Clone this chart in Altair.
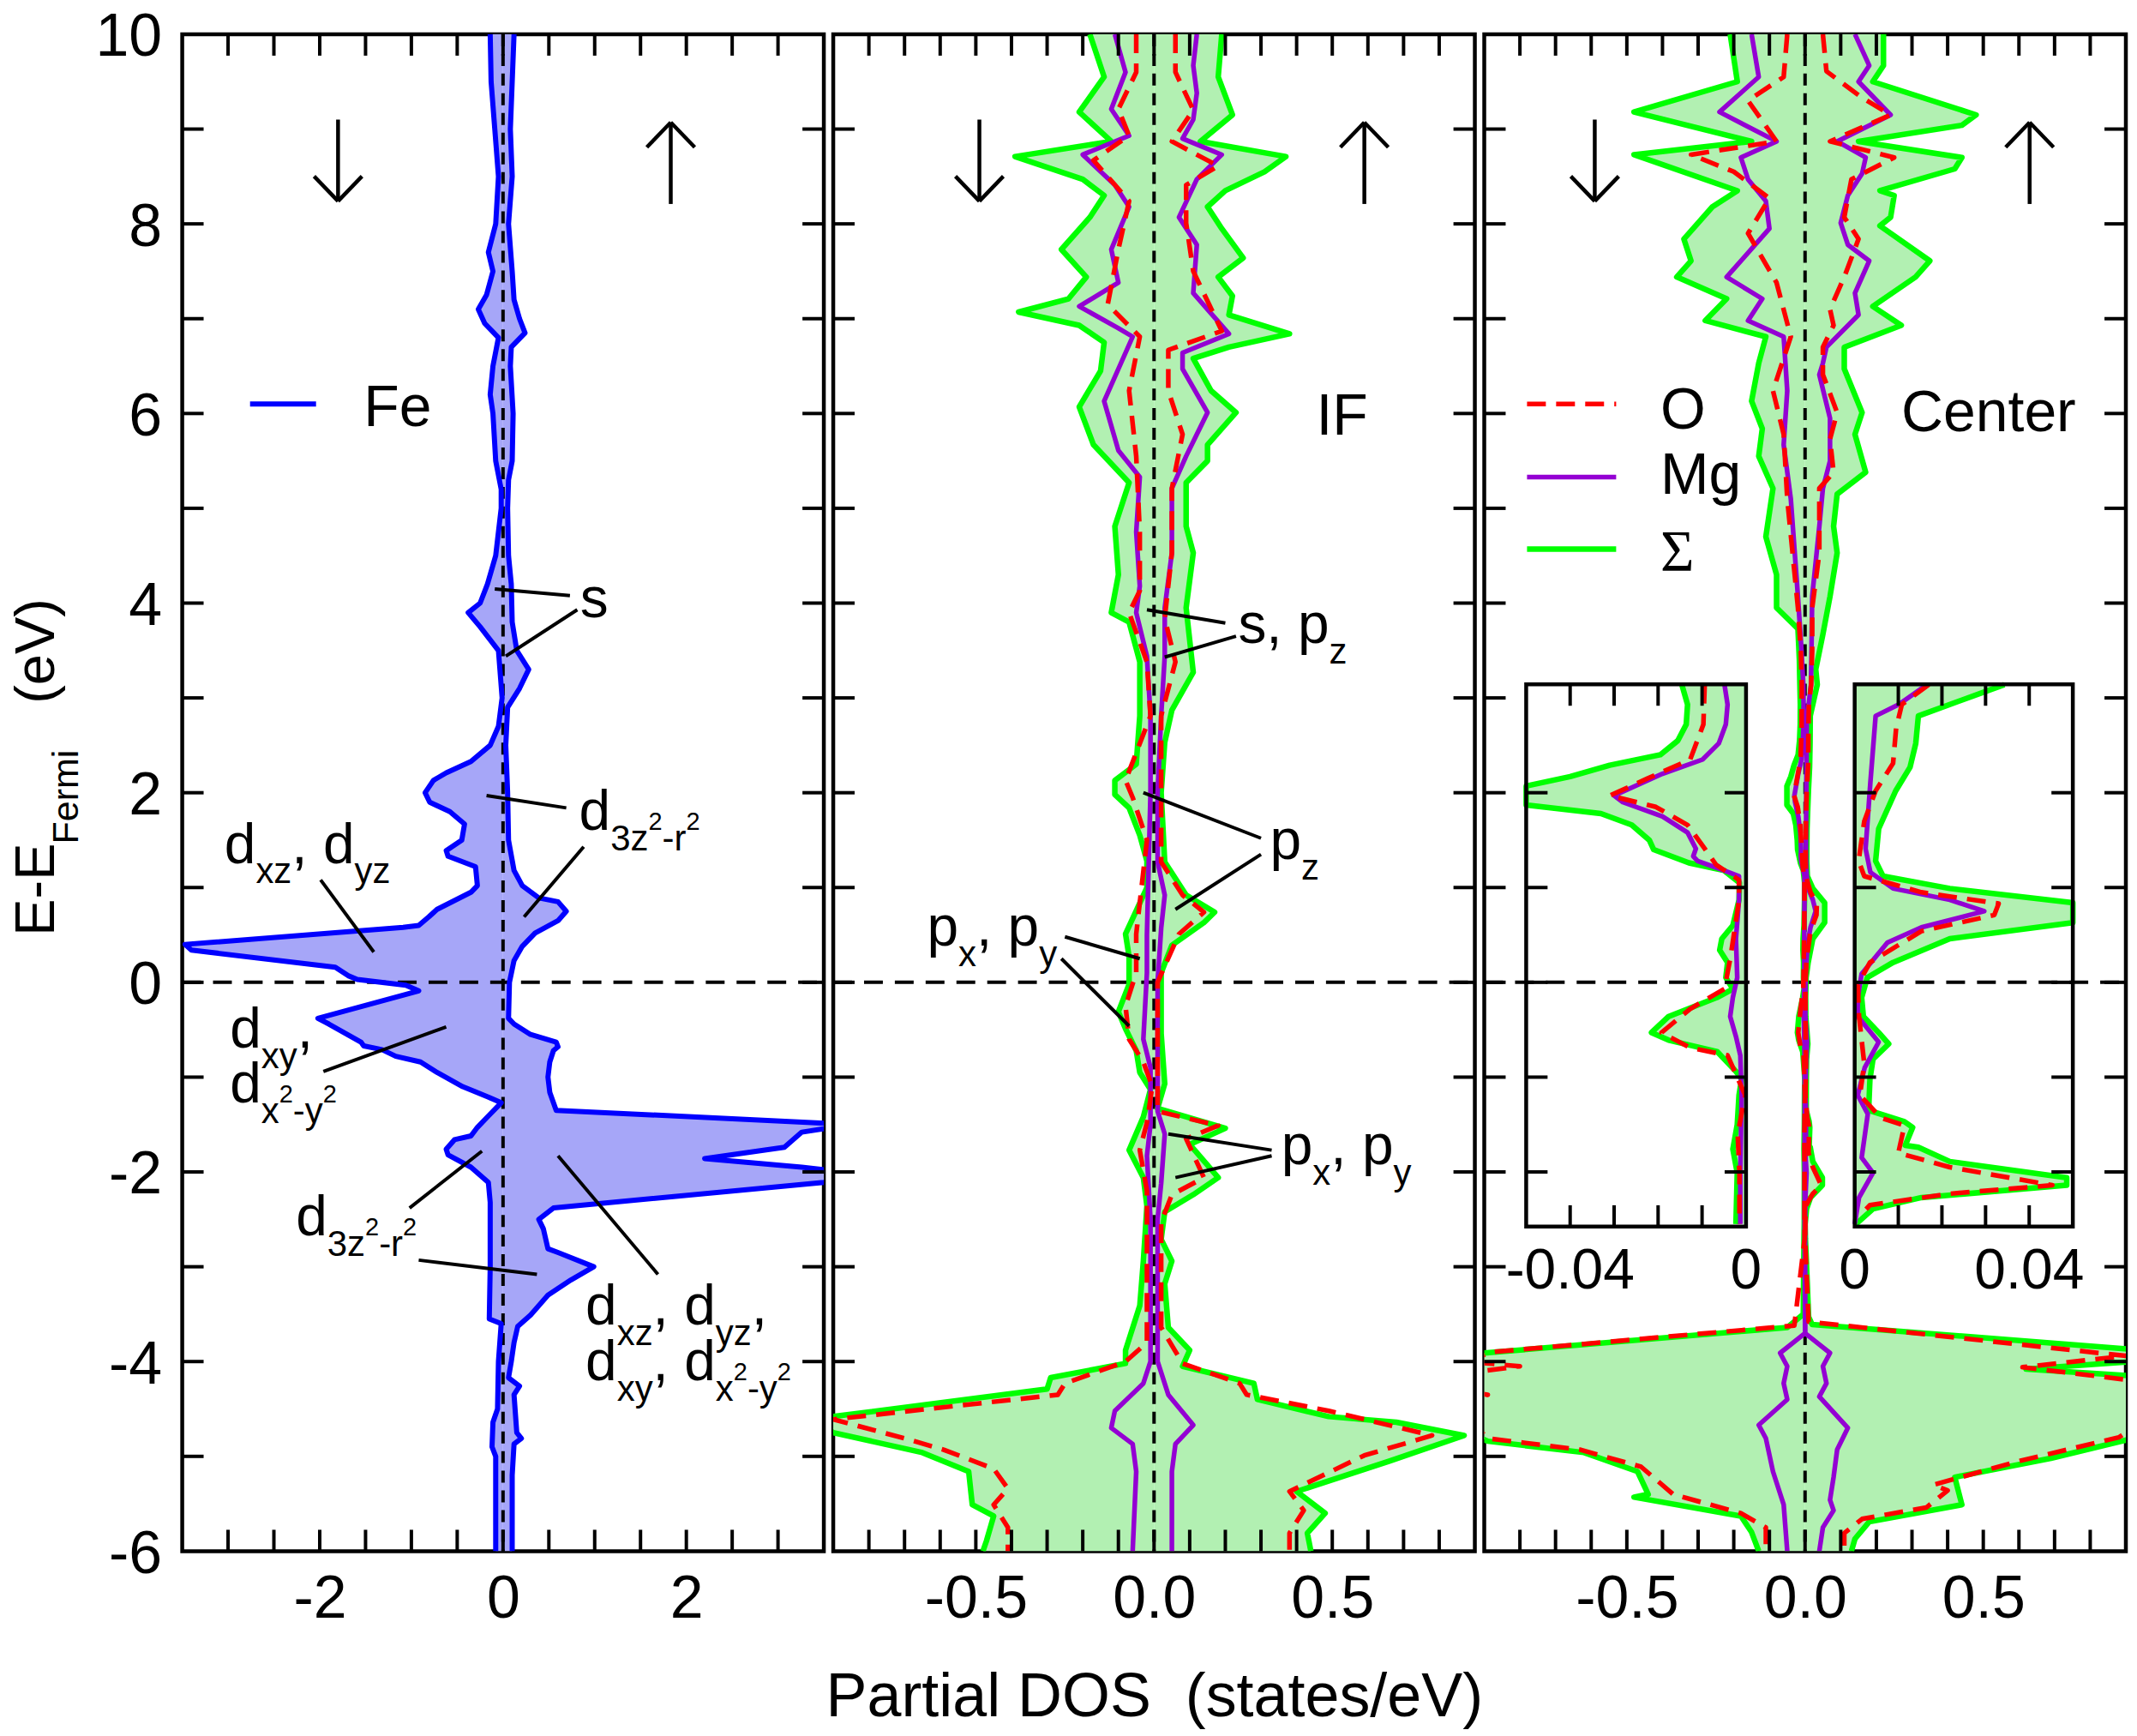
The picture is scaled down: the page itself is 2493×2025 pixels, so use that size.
import altair as alt
import pandas as pd

FONT = "Liberation Sans"
SERIF = "Liberation Serif"
W, H = 750, 1773
E_DOM = [-6.0, 10.0]
PX_E = H / (E_DOM[1] - E_DOM[0])
TL = 25
FS_TICK = 70

BLUE, BLUE_FILL = "#0000ff", "#a6a6f8"
GREEN, GREEN_FILL = "#00ff00", "#b2f0b2"
PURPLE, RED = "#9400d3", "#ff0000"
O_DASH = [22, 12]
LW_FE, LW_SUM, LW_MG, LW_O = 6, 6.5, 5.5, 5.5

X_DOM = [[-3.5, 3.5], [-0.9, 0.9], [-0.9, 0.9]]
X_TICKS = [
    [-3.0, -2.5, -2.0, -1.5, -1.0, -0.5, 0.0, 0.5, 1.0, 1.5, 2.0, 2.5, 3.0],
    [-0.8, -0.7, -0.6, -0.5, -0.4, -0.3, -0.2, -0.1, 0.0, 0.1, 0.2, 0.3, 0.4, 0.5, 0.6, 0.7, 0.8],
    [-0.8, -0.7, -0.6, -0.5, -0.4, -0.3, -0.2, -0.1, 0.0, 0.1, 0.2, 0.3, 0.4, 0.5, 0.6, 0.7, 0.8],
]
X_LABELS = [[-2, 0, 2], [-0.5, 0.0, 0.5], [-0.5, 0.0, 0.5]]
X_LABEL_EXPR = ["'' + datum.value",
                "datum.value == 0 ? '0.0' : '' + datum.value",
                "datum.value == 0 ? '0.0' : '' + datum.value"]
Y_TICKS = [-5, -4, -3, -2, -1, 0, 1, 2, 3, 4, 5, 6, 7, 8, 9]
Y_LABELS = [-6, -4, -2, 0, 2, 4, 6, 8, 10]
X_TITLE = "Partial DOS\u00a0 (states/eV)"

# ---------------- Panel 1: Fe (E, DOS) ----------------
FE_UP = [(10.0, 0.12), (9.5, 0.10), (9.0, 0.08), (8.5, 0.10), (8.0, 0.06), (7.5, 0.10), (7.2, 0.12),
         (7.0, 0.18), (6.85, 0.24), (6.7, 0.09), (6.5, 0.08), (6.0, 0.11), (5.5, 0.10), (5.3, 0.06),
         (5.0, 0.05), (4.5, 0.06), (4.2, 0.09), (3.8, 0.10), (3.5, 0.15), (3.3, 0.28), (3.1, 0.18),
         (2.9, 0.05), (2.5, 0.03), (2.0, 0.05), (1.5, 0.06), (1.18, 0.12), (1.02, 0.21), (0.89, 0.39),
         (0.85, 0.60), (0.75, 0.69), (0.65, 0.60), (0.52, 0.35), (0.38, 0.21), (0.23, 0.12), (0.0, 0.07),
         (-0.38, 0.06), (-0.44, 0.12), (-0.55, 0.30), (-0.63, 0.58), (-0.68, 0.60), (-0.72, 0.55),
         (-0.84, 0.51), (-1.0, 0.49), (-1.16, 0.51), (-1.35, 0.58), (-1.50, 3.8), (-1.58, 3.26),
         (-1.74, 3.07), (-1.86, 2.20), (-1.95, 3.26), (-2.02, 3.9), (-2.11, 3.5), (-2.38, 0.55),
         (-2.50, 0.39), (-2.6, 0.44), (-2.81, 0.49), (-2.85, 0.60), (-3.0, 0.99), (-3.14, 0.74),
         (-3.30, 0.49), (-3.51, 0.30), (-3.63, 0.16), (-3.8, 0.12), (-4.0, 0.09), (-4.17, 0.06),
         (-4.26, 0.18), (-4.35, 0.12), (-4.75, 0.15), (-4.81, 0.20), (-4.87, 0.12), (-5.2, 0.10),
         (-6.0, 0.10)]
FE_DN = [(10.0, 0.14), (9.5, 0.13), (9.0, 0.09), (8.5, 0.05), (8.0, 0.08), (7.7, 0.16), (7.5, 0.11),
         (7.25, 0.18), (7.1, 0.27), (6.95, 0.20), (6.8, 0.05), (6.5, 0.11), (6.2, 0.14), (6.0, 0.11),
         (5.5, 0.08), (5.2, 0.02), (5.0, 0.02), (4.5, 0.08), (4.2, 0.17), (4.0, 0.25), (3.9, 0.38),
         (3.75, 0.25), (3.5, 0.05), (3.0, 0.01), (2.7, 0.05), (2.5, 0.14), (2.33, 0.35), (2.21, 0.62),
         (2.13, 0.76), (2.0, 0.85), (1.9, 0.80), (1.80, 0.58), (1.67, 0.42), (1.5, 0.45), (1.39, 0.62),
         (1.33, 0.60), (1.22, 0.30), (1.02, 0.28), (0.95, 0.35), (0.77, 0.72), (0.69, 0.81), (0.60, 0.92),
         (0.58, 1.09), (0.40, 3.47), (0.34, 3.40), (0.16, 1.83), (0.07, 1.69), (0.03, 1.59),
         (-0.03, 1.06), (-0.09, 0.92), (-0.38, 2.02), (-0.44, 1.90), (-0.63, 1.55), (-0.67, 1.52),
         (-0.71, 1.32), (-0.78, 1.17), (-0.84, 0.90), (-0.95, 0.72), (-1.10, 0.44), (-1.21, 0.16),
         (-1.27, 0.02), (-1.41, 0.16), (-1.53, 0.28), (-1.62, 0.35), (-1.66, 0.53), (-1.76, 0.62),
         (-1.82, 0.60), (-1.95, 0.35), (-2.11, 0.16), (-2.32, 0.14), (-3.0, 0.14), (-3.55, 0.15),
         (-3.6, 0.02), (-4.0, 0.05), (-4.5, 0.06), (-4.64, 0.11), (-4.9, 0.12), (-5.0, 0.08), (-6.0, 0.08)]

# ---------------- Panel 2: IF ----------------
IF_SUM_UP = [(10.0, 0.19), (9.55, 0.18), (9.15, 0.22), (8.87, 0.13), (8.71, 0.37), (8.55, 0.31), (8.35, 0.20),
             (8.18, 0.15), (7.95, 0.19), (7.64, 0.25), (7.44, 0.18), (7.24, 0.22), (7.04, 0.21), (6.84, 0.38),
             (6.70, 0.21), (6.58, 0.11), (6.24, 0.16), (6.01, 0.23), (5.67, 0.15), (5.50, 0.15), (5.27, 0.09),
             (4.81, 0.09), (4.53, 0.11), (3.95, 0.09), (3.27, 0.11), (2.87, 0.05), (2.53, 0.03), (2.0, 0.02),
             (1.27, 0.03), (0.92, 0.09), (0.74, 0.17), (0.63, 0.14), (0.39, 0.05), (0.10, 0.02), (-0.25, 0.02),
             (-0.54, 0.02), (-1.07, 0.03), (-1.33, 0.01), (-1.54, 0.20), (-1.71, 0.10), (-2.06, 0.18),
             (-2.24, 0.11), (-2.42, 0.03), (-2.71, 0.02), (-2.94, 0.05), (-3.18, 0.03), (-3.64, 0.04),
             (-3.88, 0.10), (-4.05, 0.08), (-4.23, 0.28), (-4.40, 0.29), (-4.58, 0.49), (-4.64, 0.68),
             (-4.78, 0.87), (-5.05, 0.66), (-5.37, 0.40), (-5.60, 0.48), (-5.81, 0.43), (-6.0, 0.44)]
IF_SUM_DN = [(10.0, 0.18), (9.55, 0.14), (9.18, 0.21), (8.87, 0.12), (8.71, 0.39), (8.47, 0.20), (8.30, 0.14),
             (8.07, 0.18), (7.73, 0.26), (7.44, 0.19), (7.21, 0.24), (7.07, 0.38), (6.93, 0.21), (6.75, 0.14),
             (6.45, 0.15), (6.07, 0.21), (5.67, 0.17), (5.27, 0.07), (4.81, 0.11), (4.30, 0.10), (3.90, 0.12),
             (3.80, 0.07), (3.38, 0.04), (2.81, 0.04), (2.30, 0.05), (2.13, 0.11), (1.98, 0.11), (1.84, 0.07),
             (1.55, 0.04), (1.28, 0.02), (1.0, 0.02), (0.51, 0.08), (0.27, 0.07), (-0.02, 0.07), (-0.31, 0.10),
             (-0.49, 0.08), (-0.72, 0.05), (-0.95, 0.04), (-1.13, 0.01), (-1.42, 0.03), (-1.77, 0.07),
             (-2.06, 0.03), (-2.36, 0.02), (-2.94, 0.03), (-3.41, 0.04), (-3.88, 0.08), (-4.02, 0.08),
             (-4.17, 0.29), (-4.29, 0.30), (-4.58, 0.90), (-4.64, 0.95), (-4.75, 0.90), (-4.96, 0.65),
             (-5.16, 0.52), (-5.51, 0.51), (-5.63, 0.45), (-5.89, 0.47), (-6.0, 0.48)]
IF_MG_UP = [(10.0, 0.12), (9.67, 0.11), (9.38, 0.12), (9.1, 0.11), (8.9, 0.08), (8.73, 0.19), (8.47, 0.12),
            (8.07, 0.07), (7.78, 0.12), (7.27, 0.11), (6.84, 0.21), (6.64, 0.08), (6.47, 0.08), (6.01, 0.15),
            (5.55, 0.09), (5.21, 0.05), (4.53, 0.05), (3.95, 0.03), (3.44, 0.03), (2.81, 0.02), (2.0, 0.01),
            (1.27, 0.01), (0.92, 0.03), (0.57, 0.02), (0.0, 0.01), (-1.0, 0.01), (-1.36, 0.01), (-1.6, 0.03),
            (-2.12, 0.02), (-2.5, 0.01), (-4.0, 0.01), (-4.35, 0.04), (-4.67, 0.11), (-4.87, 0.06),
            (-5.16, 0.05), (-6.0, 0.05)]
IF_MG_DN = [(10.0, 0.11), (9.6, 0.08), (9.21, 0.12), (8.93, 0.07), (8.73, 0.20), (8.41, 0.11), (8.18, 0.07),
            (7.73, 0.12), (7.38, 0.10), (7.13, 0.21), (6.9, 0.10), (6.81, 0.06), (6.13, 0.14), (5.61, 0.10),
            (5.33, 0.04), (4.75, 0.05), (4.18, 0.04), (3.90, 0.05), (3.44, 0.02), (2.81, 0.01), (2.0, 0.01),
            (0.5, 0.02), (0.10, 0.02), (-0.6, 0.03), (-0.9, 0.01), (-1.5, 0.01), (-1.83, 0.02), (-2.5, 0.01),
            (-4.0, 0.01), (-4.23, 0.03), (-4.52, 0.11), (-4.70, 0.12), (-4.87, 0.06), (-5.16, 0.05), (-6.0, 0.06)]
IF_O_UP = [(10.0, 0.06), (9.6, 0.06), (9.2, 0.11), (8.87, 0.05), (8.61, 0.18), (8.41, 0.09), (8.01, 0.09),
           (7.5, 0.11), (6.87, 0.19), (6.67, 0.04), (6.24, 0.04), (5.78, 0.08), (5.21, 0.05), (4.53, 0.05),
           (3.84, 0.03), (3.38, 0.06), (2.81, 0.02), (2.0, 0.02), (1.27, 0.02), (0.92, 0.08), (0.74, 0.14),
           (0.51, 0.07), (0.0, 0.01), (-1.36, 0.01), (-1.51, 0.18), (-1.65, 0.09), (-2.06, 0.14), (-2.24, 0.05),
           (-2.53, 0.02), (-3.64, 0.02), (-4.02, 0.08), (-4.23, 0.24), (-4.35, 0.26), (-4.52, 0.49),
           (-4.78, 0.78), (-4.99, 0.59), (-5.37, 0.38), (-5.57, 0.42), (-5.81, 0.38), (-6.0, 0.38)]
IF_O_DN = [(10.0, 0.05), (9.6, 0.05), (9.21, 0.10), (8.93, 0.07), (8.67, 0.17), (8.24, 0.07), (7.73, 0.10),
           (7.15, 0.13), (6.81, 0.04), (6.24, 0.07), (5.55, 0.05), (4.75, 0.04), (4.13, 0.04), (3.90, 0.07),
           (3.38, 0.02), (2.81, 0.01), (2.13, 0.08), (1.95, 0.06), (1.5, 0.02), (0.51, 0.05), (0.10, 0.05),
           (-0.25, 0.08), (-0.6, 0.07), (-0.84, 0.03), (-1.1, 0.005), (-1.48, 0.02), (-1.77, 0.04),
           (-2.2, 0.02), (-3.8, 0.02), (-4.0, 0.08), (-4.23, 0.25), (-4.35, 0.27), (-4.61, 0.90),
           (-4.81, 0.70), (-4.93, 0.59), (-5.13, 0.45), (-5.34, 0.41), (-5.51, 0.45), (-5.75, 0.41), (-6.0, 0.41)]

# ---------------- Panel 3: Center (high / inset range / low) ----------------
C_SUM_UP_HI = [(10.0, 0.22), (9.67, 0.22), (9.5, 0.19), (9.15, 0.48), (9.04, 0.44), (8.87, 0.15), (8.70, 0.44),
               (8.58, 0.42), (8.35, 0.21), (8.30, 0.25), (8.07, 0.24), (7.98, 0.21), (7.61, 0.35), (7.44, 0.31),
               (7.13, 0.19), (6.93, 0.27), (6.70, 0.11), (6.47, 0.11), (6.01, 0.16), (5.78, 0.14), (5.38, 0.17),
               (5.15, 0.09), (4.81, 0.08), (4.53, 0.09), (4.07, 0.07), (3.67, 0.05), (3.3, 0.03)]
C_SUM_UP_MID = [(3.14, 0.0343), (2.81, 0.0146), (2.52, 0.014), (2.27, 0.0127), (2.02, 0.0094), (1.62, 0.0055),
                (1.28, 0.0048), (1.12, 0.0065), (0.99, 0.0218), (0.84, 0.055), (0.63, 0.055), (0.46, 0.0218),
                (0.21, 0.0088), (0.05, 0.0029), (-0.16, 0.0016), (-0.36, 0.002), (-0.53, 0.0055),
                (-0.65, 0.0078), (-0.81, 0.0042), (-1.02, 0.0035), (-1.35, 0.0032), (-1.47, 0.0114),
                (-1.53, 0.0133), (-1.72, 0.0116), (-1.74, 0.0146), (-1.89, 0.0218), (-2.06, 0.0486),
                (-2.14, 0.0486), (-2.27, 0.0153), (-2.39, 0.0042), (-2.55, 0.0003)]
C_SUM_UP_LO = [(-2.7, 0.001), (-3.53, 0.01), (-3.61, 0.02), (-3.88, 0.95), (-3.98, 1.0), (-4.08, 0.62),
               (-4.17, 1.0), (-4.5, 1.2), (-4.81, 0.92), (-5.02, 0.69), (-5.22, 0.42), (-5.51, 0.44),
               (-5.69, 0.18), (-5.87, 0.14), (-6.0, 0.13)]
C_SUM_DN_HI = [(10.0, 0.21), (9.5, 0.19), (9.18, 0.48), (8.87, 0.15), (8.73, 0.48), (8.35, 0.19), (8.18, 0.26),
               (7.84, 0.34), (7.61, 0.32), (7.44, 0.36), (7.21, 0.22), (6.98, 0.28), (6.81, 0.11), (6.53, 0.13),
               (6.13, 0.15), (5.84, 0.12), (5.55, 0.13), (5.21, 0.09), (4.70, 0.11), (4.30, 0.08), (3.95, 0.08),
               (3.73, 0.02), (3.4, 0.016)]
C_SUM_DN_MID = [(3.14, 0.0146), (2.93, 0.0133), (2.72, 0.0136), (2.55, 0.0155), (2.40, 0.0195), (2.29, 0.031),
                (2.17, 0.040), (2.07, 0.051), (1.87, 0.051), (1.78, 0.033), (1.66, 0.026), (1.50, 0.022),
                (1.40, 0.021), (1.26, 0.013), (1.18, 0.005), (1.05, 0.0015), (0.87, 0.0016), (0.60, 0.003),
                (0.46, 0.0055), (0.34, 0.006), (0.21, 0.0042), (0.05, 0.0046), (-0.07, 0.003), (-0.16, 0.0066),
                (-0.36, 0.0176), (-0.53, 0.0215), (-0.61, 0.0176), (-0.73, 0.0066), (-0.94, 0.0023),
                (-1.02, 0.001), (-1.19, 0.0016), (-1.5, 0.002), (-1.76, 0.003), (-2.01, 0.002), (-2.55, 0.0023)]
C_SUM_DN_LO = [(-2.7, 0.003), (-3.5, 0.005), (-3.64, 0.05), (-3.91, 0.90), (-4.0, 1.0), (-4.5, 1.1),
               (-4.84, 0.89), (-4.96, 0.62), (-5.16, 0.47), (-5.40, 0.44), (-5.43, 0.48), (-5.63, 0.18),
               (-5.80, 0.15), (-6.0, 0.13)]
C_MG_UP_HI = [(10.0, 0.14), (9.67, 0.18), (9.5, 0.15), (9.15, 0.24), (8.87, 0.09), (8.70, 0.17), (8.53, 0.16),
              (8.30, 0.12), (8.01, 0.10), (7.78, 0.12), (7.61, 0.18), (7.27, 0.14), (7.04, 0.15), (6.70, 0.06),
              (6.53, 0.05), (6.41, 0.04), (5.95, 0.07), (5.50, 0.07), (5.21, 0.05), (4.81, 0.04), (4.07, 0.02),
              (3.5, 0.018)]
C_MG_UP_MID = [(3.14, 0.0166), (2.93, 0.0101), (2.81, 0.0048), (2.11, 0.0036), (1.41, 0.0025), (1.16, 0.0036),
               (0.99, 0.0088), (0.87, 0.0218), (0.75, 0.0297), (0.58, 0.0153), (0.42, 0.0075), (0.09, 0.0016),
               (-0.16, 0.0007), (-0.36, 0.0007), (-0.63, 0.0055), (-0.9, 0.0023), (-1.19, 0.0007),
               (-1.39, 0.003), (-1.85, 0.0016), (-2.01, 0.0042), (-2.27, 0.001), (-2.55, 0.0)]
C_MG_UP_LO = [(-2.7, 0.0), (-3.7, 0.0), (-3.91, 0.07), (-4.05, 0.05), (-4.23, 0.06), (-4.37, 0.04), (-4.70, 0.12),
              (-4.93, 0.09), (-5.22, 0.08), (-5.46, 0.07), (-5.57, 0.08), (-5.75, 0.05), (-6.0, 0.04)]
C_MG_DN_HI = [(10.0, 0.15), (9.55, 0.13), (9.18, 0.24), (8.87, 0.08), (8.70, 0.18), (8.47, 0.16), (8.24, 0.11),
              (7.95, 0.10), (7.44, 0.22), (7.21, 0.12), (6.98, 0.16), (6.81, 0.06), (6.24, 0.05), (5.67, 0.06),
              (5.10, 0.04), (4.07, 0.02), (3.5, 0.01)]
C_MG_DN_MID = [(3.14, 0.0049), (2.93, 0.0042), (2.72, 0.0046), (2.52, 0.0062), (2.35, 0.0099), (2.20, 0.019),
               (1.97, 0.030), (1.90, 0.028), (1.75, 0.019), (1.58, 0.0133), (1.41, 0.0114), (1.33, 0.012),
               (1.28, 0.011), (1.20, 0.0062), (1.12, 0.0016), (0.87, 0.0016), (0.46, 0.0023), (0.05, 0.002),
               (-0.16, 0.003), (-0.36, 0.0036), (-0.57, 0.0023), (-0.77, 0.0013), (-1.19, 0.001),
               (-2.01, 0.0013), (-2.55, 0.0013)]
C_MG_DN_LO = [(-2.7, 0.001), (-3.7, 0.0), (-3.91, 0.07), (-4.05, 0.05), (-4.23, 0.06), (-4.40, 0.05),
              (-4.67, 0.13), (-4.81, 0.11), (-5.16, 0.09), (-5.51, 0.06), (-6.0, 0.05)]
C_O_UP_HI = [(10.0, 0.05), (9.61, 0.06), (9.33, 0.16), (9.15, 0.24), (8.87, 0.07), (8.70, 0.25), (8.47, 0.13),
             (8.07, 0.11), (7.84, 0.15), (7.44, 0.11), (7.10, 0.07), (6.93, 0.08), (6.70, 0.05), (6.41, 0.05),
             (6.01, 0.09), (5.73, 0.07), (5.38, 0.08), (5.21, 0.04), (4.53, 0.04), (3.95, 0.02), (3.5, 0.02)]
C_O_UP_MID = [(3.14, 0.017), (2.93, 0.0108), (2.68, 0.0095), (2.31, 0.0088), (2.02, 0.0048), (1.70, 0.0022),
              (1.28, 0.0009), (1.12, 0.0022), (0.95, 0.0153), (0.83, 0.033), (0.71, 0.032), (0.54, 0.0153),
              (0.21, 0.0035), (-0.03, 0.0007), (-0.36, 0.001), (-0.61, 0.0016), (-0.86, 0.0022),
              (-1.19, 0.0012), (-1.43, 0.006), (-1.51, 0.0114), (-1.80, 0.01), (-1.95, 0.0218),
              (-2.14, 0.0453), (-2.23, 0.0218), (-2.35, 0.0035), (-2.47, 0.001)]
C_O_UP_LO = [(-2.7, 0.0), (-3.58, 0.01), (-3.94, 0.90), (-4.06, 0.61), (-4.20, 0.92), (-4.5, 1.0), (-4.80, 0.88),
             (-5.05, 0.60), (-5.30, 0.36), (-5.36, 0.40), (-5.54, 0.34), (-5.66, 0.16), (-5.81, 0.11), (-6.0, 0.11)]
C_O_DN_HI = [(10.0, 0.05), (9.55, 0.06), (9.30, 0.16), (8.87, 0.08), (8.73, 0.32), (8.55, 0.20), (8.27, 0.10),
             (7.90, 0.16), (7.38, 0.08), (6.81, 0.04), (6.24, 0.09), (5.78, 0.06), (5.10, 0.05), (3.95, 0.02),
             (3.5, 0.012)]
C_O_DN_MID = [(3.14, 0.0094), (2.72, 0.0097), (2.35, 0.0127), (2.15, 0.0224), (1.97, 0.031), (1.85, 0.0205),
              (1.66, 0.0133), (1.41, 0.0094), (1.24, 0.0068), (1.08, 0.0016), (0.87, 0.0016), (0.46, 0.0029),
              (0.25, 0.0036), (-0.07, 0.0049), (-0.28, 0.0127), (-0.53, 0.0192), (-0.69, 0.0127),
              (-0.77, 0.0042), (-1.19, 0.0002), (-1.6, 0.0019), (-2.01, 0.0015), (-2.55, 0.0015)]
C_O_DN_LO = [(-2.7, 0.001), (-3.62, 0.03), (-3.90, 0.88), (-4.0, 0.95), (-4.05, 0.80), (-4.12, 0.95), (-4.3, 1.0),
             (-4.35, 0.89), (-4.4, 1.0), (-4.81, 0.89), (-4.93, 0.63), (-5.11, 0.46), (-5.40, 0.37),
             (-5.60, 0.18), (-5.75, 0.11), (-6.0, 0.11)]

# ---------------- insets ----------------
INSET_E = [-2.577, 3.143]
INSET_L_DOM, INSET_R_DOM = [-0.05, 0.0], [0.0, 0.05]
INSET_L_PX, INSET_R_PX = [49, 306], [433, 688]
INSET_XT_L = [-0.04, -0.03, -0.02, -0.01]
INSET_XT_R = [0.01, 0.02, 0.03, 0.04]
INSET_YT = [2, 1, 0, -1, -2]
INSET_LAB_L = [-0.04, 0.0]
INSET_LAB_R = [0.0, 0.04]

# ---------------- annotations ----------------
WID = {'d': .556, 'x': .5, 'z': .5, 'y': .5, 's': .5, 'p': .556, '3': .556, '2': .556, '-': .333,
       'r': .333, ',': .278, ' ': .278, 'I': .278, 'F': .611, 'e': .556, 'C': .722, 'n': .556,
       't': .278, 'O': .778, 'M': .833, 'g': .556}
ROLE = {"m": (66, 0.0), "s": (42, 24.0), "ss": (29, 0.0), "L": (68, 0.0)}
D3Z = [("d", "m"), ("3z", "s"), ("2", "ss"), ("-r", "s"), ("2", "ss")]
P1_LABELS = [
    (0.84, 3.85, [("s", "m")]),
    (0.83, 1.61, D3Z),
    (-3.04, 1.26, [("d", "m"), ("xz", "s"), (",", "m"), (" ", "m"), ("d", "m"), ("yz", "s")]),
    (-2.98, -0.69, [("d", "m"), ("xy", "s"), (",", "m")]),
    (-2.98, -1.27, [("d", "m"), ("x", "s"), ("2", "ss"), ("-y", "s"), ("2", "ss")]),
    (-2.26, -2.67, D3Z),
    (0.90, -3.61, [("d", "m"), ("xz", "s"), (",", "m"), (" ", "m"), ("d", "m"), ("yz", "s"), (",", "m")]),
    (0.90, -4.20, [("d", "m"), ("xy", "s"), (",", "m"), (" ", "m"), ("d", "m"), ("x", "s"), ("2", "ss"),
                   ("-y", "s"), ("2", "ss")]),
    (-1.52, 5.87, [("Fe", "L")]),
]
PXPY = [("p", "m"), ("x", "s"), (",", "m"), (" ", "m"), ("p", "m"), ("y", "s")]
P2_LABELS = [
    (0.236, 3.58, [("s", "m"), (",", "m"), (" ", "m"), ("p", "m"), ("z", "s")]),
    (0.325, 1.30, [("p", "m"), ("z", "s")]),
    (-0.637, 0.39, PXPY),
    (0.357, -1.92, PXPY),
    (0.455, 5.78, [("IF", "L")]),
]
P3_LABELS = [
    (0.27, 5.81, [("Center", "L")]),
    (-0.406, 5.84, [("O", "L")]),
    (-0.406, 5.15, [("Mg", "L")]),
]
P3_SIGMA = (-0.406, 4.35, "Σ")
P1_LEADERS = [(0.73, 4.08, -0.09, 4.15), (0.81, 3.93, 0.03, 3.44), (0.69, 1.84, -0.18, 1.97),
              (0.88, 1.43, 0.23, 0.69), (-1.99, 1.08, -1.41, 0.32), (-1.96, -0.94, -0.62, -0.47),
              (-1.02, -2.38, -0.23, -1.78), (-0.92, -2.93, 0.37, -3.08), (0.60, -1.83, 1.69, -3.08)]
P2_LEADERS = [(0.20, 3.79, -0.02, 3.93), (0.23, 3.65, 0.03, 3.43), (0.30, 1.52, -0.03, 2.00),
              (0.30, 1.35, 0.06, 0.77), (-0.25, 0.48, -0.04, 0.25), (-0.26, 0.25, -0.07, -0.46),
              (0.33, -1.77, 0.04, -1.60), (0.33, -1.83, 0.06, -2.06)]
ARROWS = [[(-1.80, 9.10, 8.24, "down"), (1.83, 9.07, 8.21, "up")],
          [(-0.49, 9.10, 8.24, "down"), (0.59, 9.07, 8.21, "up")],
          [(-0.59, 9.10, 8.24, "down"), (0.63, 9.07, 8.21, "up")]]
ARROW_HEAD_PX = (28, 29)
FE_LEGEND = (-2.76, -2.04, 6.10)
C_LEGEND_X = (-0.78, -0.53)
C_LEGEND_E = {"O": 6.10, "Mg": 5.33, "S": 4.57}
YTITLE = [("E-E", 65, -150, 0.49), ("Fermi", 43, -122, 1.46), ("(eV)", 65, -150, 2.94)]


# ---------------- helpers ----------------
def sdf(pairs, sign=1.0):
    return pd.DataFrame({"E": [float(e) for e, _ in pairs],
                         "v": [sign * float(x) for _, x in pairs],
                         "i": list(range(len(pairs)))})


def ppu(p):
    return W / (X_DOM[p][1] - X_DOM[p][0])


def xaxis(p):
    kw = dict(values=X_LABELS[p], labelExpr=X_LABEL_EXPR[p], ticks=False, domain=False, grid=False,
              labelFont=FONT, labelFontSize=FS_TICK, labelColor="black", labelPadding=22, labelFlush=False)
    if p == 1:
        kw.update(title=X_TITLE, titleFont=FONT, titleFontSize=72, titleFontWeight="normal",
                  titleColor="black", titlePadding=44)
    else:
        kw["title"] = None
    return alt.Axis(**kw)


def X(p):
    return alt.X("v:Q", scale=alt.Scale(domain=X_DOM[p], nice=False, zero=False), axis=xaxis(p), stack=None)


def XI(side):
    dom, rng = (INSET_L_DOM, INSET_L_PX) if side == "L" else (INSET_R_DOM, INSET_R_PX)
    return alt.X("v:Q", scale=alt.Scale(domain=dom, range=rng, clamp=True, nice=False, zero=False),
                 axis=None, stack=None)


def Y(p):
    if p == 0:
        ax = alt.Axis(values=Y_LABELS, labelExpr="'' + datum.value", ticks=False, domain=False, grid=False,
                      labelFont=FONT, labelFontSize=FS_TICK, labelColor="black", labelPadding=24,
                      labelBaseline="alphabetic", labelOffset=25, labelFlush=False, title=None)
        return alt.Y("E:Q", scale=alt.Scale(domain=E_DOM, nice=False, zero=False), axis=ax)
    return alt.Y("E:Q", scale=alt.Scale(domain=E_DOM, nice=False, zero=False), axis=None)


def area(d, xe, ye, color):
    return alt.Chart(d).mark_area(orient="horizontal", color=color, clip=True).encode(x=xe, y=ye)


def line(d, xe, ye, color, width, dash=None):
    kw = dict(color=color, strokeWidth=width, clip=True, strokeJoin="round")
    if dash:
        kw["strokeDash"] = dash
    return alt.Chart(d).mark_line(**kw).encode(x=xe, y=ye, order=alt.Order("i:Q"))


def segs(rows, xe, ye, color="black", width=4, dash=None):
    d = pd.DataFrame(rows, columns=["v", "E", "v2", "E2"])
    kw = dict(color=color, strokeWidth=width)
    if dash:
        kw["strokeDash"] = dash
    return alt.Chart(d).mark_rule(**kw).encode(x=xe, x2=alt.X2("v2:Q"), y=ye, y2=alt.Y2("E2:Q"))


def label_rows(specs, pu):
    rows = []
    for v0, E0, pieces in specs:
        cur = 0.0
        for t, r in pieces:
            fs, drop = ROLE[r]
            rows.append({"v": v0 + cur / pu, "E": E0 - drop / PX_E, "t": t, "fs": fs})
            cur += sum(WID.get(c, .556) for c in t) * fs
    return rows


def texts(rows, xe, ye, font=FONT):
    d = pd.DataFrame(rows)
    return alt.Chart(d).mark_text(align="left", baseline="alphabetic", font=font, color="black").encode(
        x=xe, y=ye, text="t:N", size=alt.Size("fs:Q", scale=None))


def zero_lines(p):
    return [
        alt.Chart(pd.DataFrame({"E": [0.0]})).mark_rule(color="black", strokeWidth=4, strokeDash=[22, 14])
        .encode(y=Y(p), x=alt.value(0), x2=alt.value(W)),
        alt.Chart(pd.DataFrame({"v": [0.0]})).mark_rule(color="black", strokeWidth=4, strokeDash=[14, 9])
        .encode(x=X(p), y=alt.value(0), y2=alt.value(H)),
    ]


def frame_ticks(p):
    xt = pd.DataFrame({"v": X_TICKS[p]})
    yt = pd.DataFrame({"E": Y_TICKS})
    r = dict(color="black", strokeWidth=4)
    return [
        alt.Chart(xt).mark_rule(**r).encode(x=X(p), y=alt.value(0), y2=alt.value(TL)),
        alt.Chart(xt).mark_rule(**r).encode(x=X(p), y=alt.value(H - TL), y2=alt.value(H)),
        alt.Chart(yt).mark_rule(**r).encode(y=Y(p), x=alt.value(0), x2=alt.value(TL)),
        alt.Chart(yt).mark_rule(**r).encode(y=Y(p), x=alt.value(W - TL), x2=alt.value(W)),
    ]


def arrows(p):
    hv = ARROW_HEAD_PX[0] / ppu(p)
    hE = ARROW_HEAD_PX[1] / PX_E
    rows = []
    for v, et, eb, kind in ARROWS[p]:
        rows.append((v, et, v, eb))
        if kind == "down":
            rows += [(v, eb, v - hv, eb + hE), (v, eb, v + hv, eb + hE)]
        else:
            rows += [(v, et, v - hv, et - hE), (v, et, v + hv, et - hE)]
    return segs(rows, X(p), Y(p), width=4.5)


# ---------------- panel 1 ----------------
xe, ye = X(0), Y(0)
p1_layers = [
    area(sdf(FE_UP), xe, ye, BLUE_FILL),
    area(sdf(FE_DN, -1.0), xe, ye, BLUE_FILL),
    *zero_lines(0),
    line(sdf(FE_UP), xe, ye, BLUE, LW_FE),
    line(sdf(FE_DN, -1.0), xe, ye, BLUE, LW_FE),
    segs(P1_LEADERS, xe, ye),
    texts(label_rows(P1_LABELS, ppu(0)), xe, ye),
    segs([(FE_LEGEND[0], FE_LEGEND[2], FE_LEGEND[1], FE_LEGEND[2])], xe, ye, color=BLUE, width=LW_FE),
    arrows(0),
    *frame_ticks(0),
]
for t, fs, px, E in YTITLE:
    p1_layers.append(
        alt.Chart(pd.DataFrame({"E": [E], "t": [t]})).mark_text(
            angle=270, align="left", baseline="alphabetic", font=FONT, fontSize=fs, color="black")
        .encode(x=alt.value(px), y=ye, text="t:N"))
p1 = alt.layer(*p1_layers).properties(width=W, height=H)

# ---------------- panel 2 ----------------
xe, ye = X(1), Y(1)
p2 = alt.layer(
    area(sdf(IF_SUM_UP), xe, ye, GREEN_FILL),
    area(sdf(IF_SUM_DN, -1.0), xe, ye, GREEN_FILL),
    *zero_lines(1),
    line(sdf(IF_SUM_UP), xe, ye, GREEN, LW_SUM),
    line(sdf(IF_SUM_DN, -1.0), xe, ye, GREEN, LW_SUM),
    line(sdf(IF_MG_UP), xe, ye, PURPLE, LW_MG),
    line(sdf(IF_MG_DN, -1.0), xe, ye, PURPLE, LW_MG),
    line(sdf(IF_O_UP), xe, ye, RED, LW_O, O_DASH),
    line(sdf(IF_O_DN, -1.0), xe, ye, RED, LW_O, O_DASH),
    segs(P2_LEADERS, xe, ye),
    texts(label_rows(P2_LABELS, ppu(1)), xe, ye),
    arrows(1),
    *frame_ticks(1),
).properties(width=W, height=H)

# ---------------- panel 3 ----------------
xe, ye = X(2), Y(2)
sum_up = C_SUM_UP_HI + C_SUM_UP_MID + C_SUM_UP_LO
sum_dn = C_SUM_DN_HI + C_SUM_DN_MID + C_SUM_DN_LO
mg_up = C_MG_UP_HI + C_MG_UP_MID + C_MG_UP_LO
mg_dn = C_MG_DN_HI + C_MG_DN_MID + C_MG_DN_LO
o_up = C_O_UP_HI + C_O_UP_MID + C_O_UP_LO
o_dn = C_O_DN_HI + C_O_DN_MID + C_O_DN_LO
lx0, lx1 = C_LEGEND_X
p3_main = alt.layer(
    area(sdf(sum_up), xe, ye, GREEN_FILL),
    area(sdf(sum_dn, -1.0), xe, ye, GREEN_FILL),
    *zero_lines(2),
    line(sdf(sum_up), xe, ye, GREEN, LW_SUM),
    line(sdf(sum_dn, -1.0), xe, ye, GREEN, LW_SUM),
    line(sdf(mg_up), xe, ye, PURPLE, LW_MG),
    line(sdf(mg_dn, -1.0), xe, ye, PURPLE, LW_MG),
    line(sdf(o_up), xe, ye, RED, LW_O, O_DASH),
    line(sdf(o_dn, -1.0), xe, ye, RED, LW_O, O_DASH),
    segs([(lx0, C_LEGEND_E["O"], lx1, C_LEGEND_E["O"])], xe, ye, color=RED, width=LW_O, dash=O_DASH),
    segs([(lx0, C_LEGEND_E["Mg"], lx1, C_LEGEND_E["Mg"])], xe, ye, color=PURPLE, width=LW_MG),
    segs([(lx0, C_LEGEND_E["S"], lx1, C_LEGEND_E["S"])], xe, ye, color=GREEN, width=LW_SUM),
    texts(label_rows(P3_LABELS, ppu(2)), xe, ye),
    texts([{"v": P3_SIGMA[0], "E": P3_SIGMA[1], "t": P3_SIGMA[2], "fs": 68}], xe, ye, font=SERIF),
    arrows(2),
    *frame_ticks(2),
)


def inset(side, s_pairs, m_pairs, o_pairs, sign):
    xi = XI(side)
    dom = INSET_L_DOM if side == "L" else INSET_R_DOM
    px = INSET_L_PX if side == "L" else INSET_R_PX
    pu = (px[1] - px[0]) / (dom[1] - dom[0])
    dv = TL / pu
    dE = TL / PX_E
    xt = INSET_XT_L if side == "L" else INSET_XT_R
    labs = INSET_LAB_L if side == "L" else INSET_LAB_R
    tick_rows = ([(x, INSET_E[0], x, INSET_E[0] + dE) for x in xt] +
                 [(x, INSET_E[1] - dE, x, INSET_E[1]) for x in xt] +
                 [(dom[0], e, dom[0] + dv, e) for e in INSET_YT] +
                 [(dom[1] - dv, e, dom[1], e) for e in INSET_YT])
    frame = pd.DataFrame({"v": [dom[0]], "v2": [dom[1]], "E": [INSET_E[0]], "E2": [INSET_E[1]]})
    labd = pd.DataFrame({"v": labs, "E": [INSET_E[0]] * len(labs), "t": [f"{x:g}" for x in labs]})
    return alt.layer(
        area(sdf(s_pairs, sign), xi, ye, GREEN_FILL),
        line(sdf(s_pairs, sign), xi, ye, GREEN, LW_SUM),
        line(sdf(m_pairs, sign), xi, ye, PURPLE, LW_MG),
        line(sdf(o_pairs, sign), xi, ye, RED, LW_O, O_DASH),
        alt.Chart(frame).mark_rect(fillOpacity=0, stroke="black", strokeWidth=4.5).encode(
            x=xi, x2=alt.X2("v2:Q"), y=ye, y2=alt.Y2("E2:Q")),
        segs(tick_rows, xi, ye, width=4),
        alt.Chart(labd).mark_text(align="center", baseline="top", dy=20, font=FONT, fontSize=66,
                                  color="black").encode(x=xi, y=ye, text="t:N"),
    )


p3 = alt.layer(
    p3_main,
    inset("L", C_SUM_DN_MID, C_MG_DN_MID, C_O_DN_MID, -1.0),
    inset("R", C_SUM_UP_MID, C_MG_UP_MID, C_O_UP_MID, 1.0),
).resolve_scale(x="independent").properties(width=W, height=H)

chart = alt.hconcat(p1, p2, p3, spacing=11, bounds="flush").properties(
    padding={"left": 0, "top": -4, "right": 0, "bottom": 0},
    background="white",
).configure_view(stroke="black", strokeWidth=4.5)

chart.save("out.html", embed_options={"renderer": "svg", "actions": False})
